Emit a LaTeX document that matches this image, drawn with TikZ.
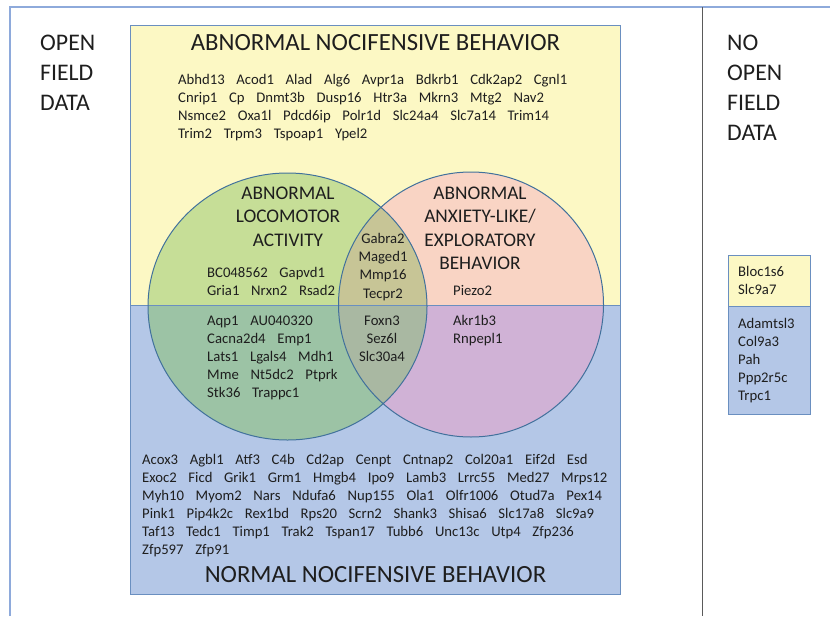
\documentclass[tikz,border=0pt]{standalone}
\usepackage{fontspec}
\setmainfont{Carlito}
\definecolor{yel}{HTML}{FCF8C4}
\definecolor{blu}{HTML}{B4C7E7}
\definecolor{grnU}{HTML}{C6DE97}
\definecolor{pnkU}{HTML}{F9D4C4}
\definecolor{oliU}{HTML}{C7C596}
\definecolor{grnL}{HTML}{9CC3A5}
\definecolor{purL}{HTML}{D0B2D6}
\definecolor{oliL}{HTML}{A9B8A2}
\definecolor{edge}{HTML}{41719C}
\definecolor{boxedge}{HTML}{6A8FC0}
\definecolor{framec}{HTML}{8EAADB}
\definecolor{divc}{HTML}{5A5A5A}
\definecolor{txt}{HTML}{1E1E1E}
\newcommand{\genefont}{\fontsize{14.7}{18}\selectfont\spaceskip=11.7pt\relax}
\begin{document}
\begin{tikzpicture}[x=1pt,y=-1pt,
  gene/.style={anchor=base west, inner sep=0pt, text=txt, font=\genefont},
  genec/.style={anchor=base, inner sep=0pt, text=txt, font=\genefont},
  title/.style={anchor=base, inner sep=0pt, text=txt, font=\fontsize{24.7}{30}\selectfont},
  side/.style={anchor=base west, inner sep=0pt, text=txt, font=\fontsize{23.8}{30}\selectfont},
  clabel/.style={anchor=base, inner sep=0pt, text=txt, font=\fontsize{19.3}{23}\selectfont},
  boxline/.style={draw=boxedge, line width=1pt},
  ringline/.style={draw=edge, line width=1pt}]
\useasboundingbox (0,0) rectangle (830,616);
% outer frame and divider
\draw[framec, line width=1.5pt] (10,616) -- (10,7) -- (830,7);
\draw[divc, line width=1.5pt] (702.5,7) -- (702.5,616);
% background rectangles
\fill[yel] (130,25) rectangle (620,305);
\fill[blu] (130,305) rectangle (620,594);
% upper regions
\begin{scope}
  \clip (130,25) rectangle (620,305);
  \fill[grnU] (287.5,306.5) ellipse [x radius=139.5pt, y radius=133.5pt];
  \fill[pnkU] (471,304.5) circle [radius=132.5pt];
  \clip (471,304.5) circle [radius=132.5pt];
  \fill[oliU] (287.5,306.5) ellipse [x radius=139.5pt, y radius=133.5pt];
\end{scope}
% lower regions
\begin{scope}
  \clip (130,305) rectangle (620,594);
  \fill[grnL] (287.5,306.5) ellipse [x radius=139.5pt, y radius=133.5pt];
  \fill[purL] (471,304.5) circle [radius=132.5pt];
  \clip (471,304.5) circle [radius=132.5pt];
  \fill[oliL] (287.5,306.5) ellipse [x radius=139.5pt, y radius=133.5pt];
\end{scope}
% outlines
\draw[boxline] (130,25) rectangle (620,305);
\draw[boxline] (130,305) rectangle (620,594);
\draw[ringline] (287.5,306.5) ellipse [x radius=139.5pt, y radius=133.5pt];
\draw[ringline] (471,304.5) circle [radius=132.5pt];
% right boxes
\fill[yel] (728,255) rectangle (810,306);
\fill[blu] (728,306) rectangle (810,414);
\draw[boxline] (728,255) rectangle (810,306);
\draw[boxline] (728,306) rectangle (810,414);
% side labels
\foreach \t [count=\i] in {OPEN,FIELD,DATA}
  {\node[side] (lft\i) at (40,{20+30*\i}) {\t};}
\foreach \t [count=\i] in {NO,OPEN,FIELD,DATA}
  {\node[side] (rgt\i) at (727,{20+30*\i}) {\t};}
% titles
\node[title] (toptitle) at (375.5,50) {ABNORMAL NOCIFENSIVE BEHAVIOR};
\node[title] (bottitle) at (375.5,582) {NORMAL NOCIFENSIVE BEHAVIOR};
% circle labels
\foreach \t [count=\i] in {ABNORMAL,LOCOMOTOR,ACTIVITY}
  {\node[clabel] (loc\i) at (288,{175.5+23.5*\i}) {\t};}
\foreach \t [count=\i] in {ABNORMAL,ANXIETY-LIKE/,EXPLORATORY,BEHAVIOR}
  {\node[clabel] (anx\i) at (480,{175.5+23.5*\i}) {\t};}
% top genes
\foreach \t [count=\i] in {Abhd13 Acod1 Alad Alg6 Avpr1a Bdkrb1 Cdk2ap2 Cgnl1,
  Cnrip1 Cp Dnmt3b Dusp16 Htr3a Mkrn3 Mtg2 Nav2,
  Nsmce2 Oxa1l Pdcd6ip Polr1d Slc24a4 Slc7a14 Trim14,
  Trim2 Trpm3 Tspoap1 Ypel2}
  {\node[gene] (top\i) at (178,{66+18*\i}) {\t};}
% upper circle genes
\foreach \t [count=\i] in {BC048562 Gapvd1, Gria1 Nrxn2 Rsad2}
  {\node[gene] (lu\i) at (207,{259+18*\i}) {\t};}
\foreach \t [count=\i] in {Gabra2,Maged1,Mmp16,Tecpr2}
  {\node[genec] (ou\i) at (383,{225+18.3*\i}) {\t};}
\node[gene] (ru1) at (453,295) {Piezo2};
% lower circle genes
\foreach \t [count=\i] in {Aqp1 AU040320, Cacna2d4 Emp1, Lats1 Lgals4 Mdh1, Mme Nt5dc2 Ptprk, Stk36 Trappc1}
  {\node[gene] (ll\i) at (207,{307+18*\i}) {\t};}
\foreach \t [count=\i] in {Foxn3,Sez6l,Slc30a4}
  {\node[genec] (ol\i) at (382,{307+18*\i}) {\t};}
\foreach \t [count=\i] in {Akr1b3,Rnpepl1}
  {\node[gene] (rl\i) at (453,{307+18*\i}) {\t};}
% bottom genes
\foreach \t [count=\i] in {Acox3 Agbl1 Atf3 C4b Cd2ap Cenpt Cntnap2 Col20a1 Eif2d Esd,
  Exoc2 Ficd Grik1 Grm1 Hmgb4 Ipo9 Lamb3 Lrrc55 Med27 Mrps12,
  Myh10 Myom2 Nars Ndufa6 Nup155 Ola1 Olfr1006 Otud7a Pex14,
  Pink1 Pip4k2c Rex1bd Rps20 Scrn2 Shank3 Shisa6 Slc17a8 Slc9a9,
  Taf13 Tedc1 Timp1 Trak2 Tspan17 Tubb6 Unc13c Utp4 Zfp236,
  Zfp597 Zfp91}
  {\node[gene] (bot\i) at (142,{446+18*\i}) {\t};}
% right box genes
\foreach \t [count=\i] in {Bloc1s6,Slc9a7}
  {\node[gene] (ry\i) at (738,{258+18*\i}) {\t};}
\foreach \t [count=\i] in {Adamtsl3,Col9a3,Pah,Ppp2r5c,Trpc1}
  {\node[gene] (rb\i) at (738,{310+18*\i}) {\t};}
\end{tikzpicture}
\end{document}
